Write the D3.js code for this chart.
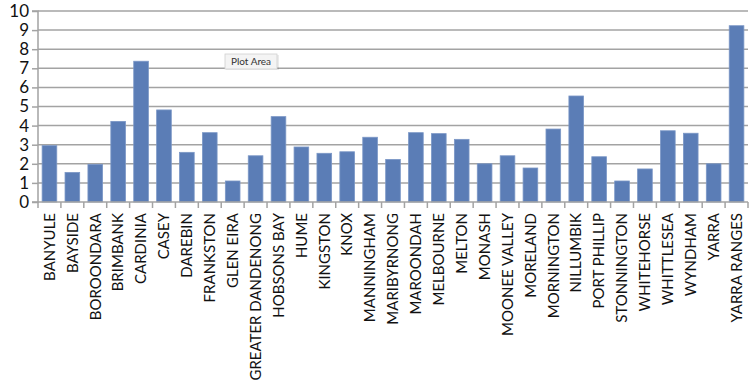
<!DOCTYPE html>
<html>
<head>
<meta charset="utf-8">
<script src="https://cdn.jsdelivr.net/npm/d3@7/dist/d3.min.js"></script>
<style>
  html, body { margin: 0; padding: 0; background: #fff; }
  svg { display: block; }
  text { font-family: Lato, "Open Sans", sans-serif; fill: #111; }
</style>
</head>
<body>
<svg id="chart" width="754" height="385"></svg>
<script>
const categories = ["BANYULE","BAYSIDE","BOROONDARA","BRIMBANK","CARDINIA","CASEY","DAREBIN","FRANKSTON","GLEN EIRA","GREATER DANDENONG","HOBSONS BAY","HUME","KINGSTON","KNOX","MANNINGHAM","MARIBYRNONG","MAROONDAH","MELBOURNE","MELTON","MONASH","MOONEE VALLEY","MORELAND","MORNINGTON","NILLUMBIK","PORT PHILLIP","STONNINGTON","WHITEHORSE","WHITTLESEA","WYNDHAM","YARRA","YARRA RANGES"];
const values = [2.95,1.55,1.97,4.22,7.37,4.82,2.6,3.63,1.1,2.42,4.47,2.88,2.55,2.63,3.39,2.23,3.63,3.58,3.28,2.0,2.42,1.78,3.82,5.55,2.37,1.1,1.73,3.73,3.6,2.0,9.23];
const yTicks = [0,1,2,3,4,5,6,7,8,9,10];

const svg = d3.select("#chart");
const mLeft = 38, mRight = 748, mTop = 11, mBottom = 202;

const x = d3.scaleBand().domain(categories).range([mLeft, mRight]).paddingInner(0.36).paddingOuter(0.18);
const xb = d3.scaleBand().domain(categories).range([mLeft, mRight]).padding(0);
const y = d3.scaleLinear().domain([0, 10]).range([mBottom, mTop]);

const grid = "#a3a3a3";

// gridlines
svg.append("g").selectAll("line").data(yTicks.filter(d => d > 0)).join("line")
  .attr("x1", mLeft).attr("x2", mRight)
  .attr("y1", d => y(d)).attr("y2", d => y(d))
  .attr("stroke", grid).attr("stroke-width", 1.5);

// y axis
const yAxis = d3.axisLeft(y).tickValues(yTicks).tickSize(6).tickPadding(3).tickFormat(d3.format("d"));
const gy = svg.append("g").attr("transform", `translate(${mLeft},0)`).call(yAxis);
gy.select(".domain").attr("stroke", grid).attr("stroke-width", 1.5).attr("d", `M-6,${mTop}H0V${mBottom}H-6`);
gy.selectAll(".tick line").attr("stroke", grid).attr("stroke-width", 1.5);
gy.selectAll(".tick text").attr("font-size", 17).attr("font-family", "Lato, sans-serif").attr("fill", "#111");

// bars
svg.append("g").selectAll("rect").data(categories).join("rect")
  .attr("x", d => x(d))
  .attr("width", x.bandwidth())
  .attr("y", (d, i) => y(values[i]))
  .attr("height", (d, i) => y(0) - y(values[i]))
  .attr("fill", "#5b7db6")
  .attr("stroke", "#7b97c6").attr("stroke-width", 0.8);

// x axis baseline and ticks at band boundaries
const gx = svg.append("g");
gx.append("line").attr("x1", mLeft).attr("x2", mRight).attr("y1", mBottom).attr("y2", mBottom)
  .attr("stroke", grid).attr("stroke-width", 1.5);
gx.selectAll("line.tk").data(categories.concat(["__end"])).join("line").attr("class", "tk")
  .attr("x1", (d, i) => i < categories.length ? xb(d) : mRight)
  .attr("x2", (d, i) => i < categories.length ? xb(d) : mRight)
  .attr("y1", mBottom).attr("y2", mBottom + 6)
  .attr("stroke", grid).attr("stroke-width", 1.5);

// category labels
gx.selectAll("text").data(categories).join("text")
  .attr("transform", d => `translate(${xb(d) + xb.bandwidth() / 2},${mBottom + 11}) rotate(-90)`)
  .attr("text-anchor", "end")
  .attr("dy", "0.35em")
  .attr("font-size", 15)
  .text(d => d);

// "Plot Area" tooltip
const tip = svg.append("g").attr("transform", "translate(225,54)");
tip.append("rect").attr("x", 1).attr("y", 1).attr("width", 53).attr("height", 15).attr("fill", "#000").attr("opacity", 0.08);
tip.append("rect").attr("width", 52).attr("height", 15).attr("fill", "#f4f4f4").attr("stroke", "#d0d0d0").attr("stroke-width", 0.8);
tip.append("text").attr("x", 26).attr("y", 11).attr("text-anchor", "middle").attr("font-size", 10)
  .attr("font-family", "Lato, sans-serif").style("fill", "#333").text("Plot Area");
</script>
</body>
</html>
